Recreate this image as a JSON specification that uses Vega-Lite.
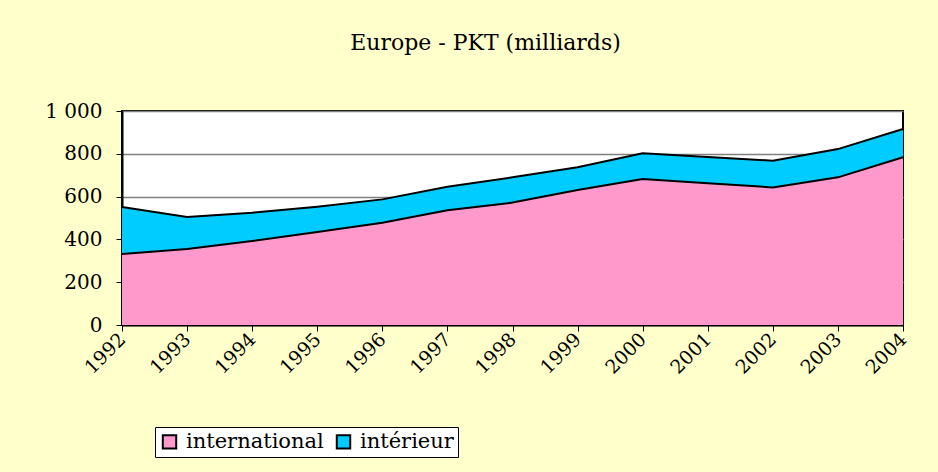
{
  "$schema": "https://vega.github.io/schema/vega-lite/v6.json",
  "autosize": "none",
  "width": 781,
  "height": 214,
  "padding": {"left": 122, "top": 111, "right": 35, "bottom": 147},
  "background": "#FFFFCC",
  "title": {
    "text": "Europe - PKT (milliards)",
    "font": "DejaVu Serif",
    "fontSize": 22,
    "fontWeight": "normal",
    "color": "black",
    "anchor": "middle",
    "frame": "group",
    "dx": -27,
    "offset": 46
  },
  "data": {
    "values": [
      {"annee": "1992", "type": "international", "ordre": 1, "pkt": 332},
      {"annee": "1993", "type": "international", "ordre": 1, "pkt": 355},
      {"annee": "1994", "type": "international", "ordre": 1, "pkt": 392},
      {"annee": "1995", "type": "international", "ordre": 1, "pkt": 435},
      {"annee": "1996", "type": "international", "ordre": 1, "pkt": 478},
      {"annee": "1997", "type": "international", "ordre": 1, "pkt": 536},
      {"annee": "1998", "type": "international", "ordre": 1, "pkt": 572},
      {"annee": "1999", "type": "international", "ordre": 1, "pkt": 631},
      {"annee": "2000", "type": "international", "ordre": 1, "pkt": 682},
      {"annee": "2001", "type": "international", "ordre": 1, "pkt": 662},
      {"annee": "2002", "type": "international", "ordre": 1, "pkt": 643},
      {"annee": "2003", "type": "international", "ordre": 1, "pkt": 690},
      {"annee": "2004", "type": "international", "ordre": 1, "pkt": 784},
      {"annee": "1992", "type": "intérieur", "ordre": 2, "pkt": 219},
      {"annee": "1993", "type": "intérieur", "ordre": 2, "pkt": 150},
      {"annee": "1994", "type": "intérieur", "ordre": 2, "pkt": 133},
      {"annee": "1995", "type": "intérieur", "ordre": 2, "pkt": 118},
      {"annee": "1996", "type": "intérieur", "ordre": 2, "pkt": 109},
      {"annee": "1997", "type": "intérieur", "ordre": 2, "pkt": 110},
      {"annee": "1998", "type": "intérieur", "ordre": 2, "pkt": 118},
      {"annee": "1999", "type": "intérieur", "ordre": 2, "pkt": 106},
      {"annee": "2000", "type": "intérieur", "ordre": 2, "pkt": 120},
      {"annee": "2001", "type": "intérieur", "ordre": 2, "pkt": 123},
      {"annee": "2002", "type": "intérieur", "ordre": 2, "pkt": 125},
      {"annee": "2003", "type": "intérieur", "ordre": 2, "pkt": 132},
      {"annee": "2004", "type": "intérieur", "ordre": 2, "pkt": 132}
    ]
  },
  "encoding": {
    "x": {
      "field": "annee",
      "type": "ordinal",
      "scale": {"type": "point", "padding": 0},
      "axis": {
        "title": null,
        "labelAngle": -45,
        "labelAlign": "right",
        "labelBaseline": "middle",
        "labelFont": "DejaVu Serif",
        "labelFontSize": 19,
        "labelColor": "black",
        "labelPadding": 5,
        "tickSize": 6,
        "tickColor": "black",
        "domainColor": "black",
        "domainWidth": 2,
        "grid": false
      }
    },
    "y": {
      "field": "pkt",
      "type": "quantitative",
      "stack": "zero",
      "scale": {"domain": [0, 1000], "nice": false},
      "axis": {
        "title": null,
        "values": [0, 200, 400, 600, 800, 1000],
        "labelExpr": "datum.value >= 1000 ? '1 000' : datum.label",
        "labelFont": "DejaVu Serif",
        "labelFontSize": 20,
        "labelColor": "black",
        "labelPadding": 14,
        "tickSize": 6,
        "tickColor": "black",
        "domainColor": "black",
        "domainWidth": 2,
        "grid": true,
        "gridColor": "#808080",
        "gridWidth": 1.5
      }
    },
    "order": {"field": "ordre", "type": "quantitative"}
  },
  "layer": [
    {
      "mark": {"type": "area", "opacity": 1},
      "encoding": {
        "color": {
          "field": "type",
          "type": "nominal",
          "scale": {"domain": ["international", "intérieur"], "range": ["#FF99CC", "#00CCFF"]},
          "legend": {
            "title": null,
            "orient": "none",
            "direction": "horizontal",
            "legendX": 33,
            "legendY": 316,
            "fillColor": "white",
            "strokeColor": "black",
            "padding": 4,
            "labelFont": "DejaVu Serif",
            "labelFontSize": 21,
            "labelColor": "black",
            "symbolType": "square",
            "symbolSize": 180,
            "symbolStrokeColor": "black",
            "symbolStrokeWidth": 2,
            "symbolOpacity": 1,
            "columnPadding": 8,
            "labelOffset": 6
          }
        }
      }
    },
    {
      "mark": {"type": "line", "color": "black", "strokeWidth": 2},
      "encoding": {
        "detail": {"field": "type", "type": "nominal"}
      }
    }
  ],
  "config": {
    "view": {"fill": "white", "stroke": "black", "strokeWidth": 2},
    "axis": {"labelOverlap": false}
  }
}
